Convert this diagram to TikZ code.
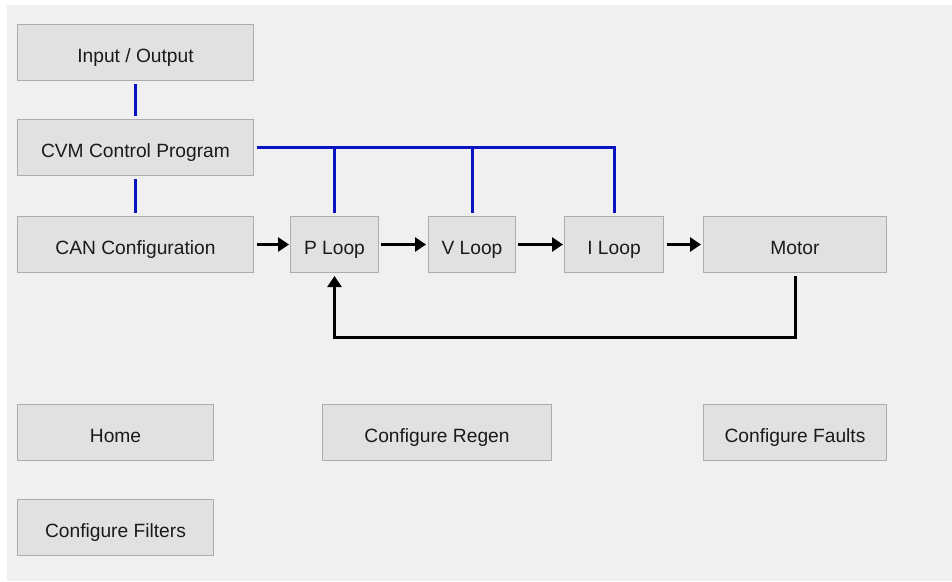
\documentclass[tikz,border=0pt]{standalone}
\usepackage{fontspec}
\setmainfont{Liberation Sans}
\usetikzlibrary{arrows.meta}
\definecolor{bg}{HTML}{F0F0F0}
\definecolor{boxfill}{HTML}{E1E1E1}
\definecolor{boxline}{HTML}{ADADAD}
\definecolor{bus}{HTML}{0A14C0}
\definecolor{txt}{HTML}{1A1A1A}
\begin{document}
\begin{tikzpicture}[x=1pt,y=-1pt,
  btn/.style={draw=boxline, line width=1pt, fill=boxfill, text=txt, inner sep=0pt,
    text height=19pt, text depth=0pt,
    font=\fontsize{19.2}{21}\selectfont, anchor=north west},
  busline/.style={draw=bus, line width=3pt},
  flow/.style={draw=black, line width=3pt, -{Triangle[length=11pt,width=14pt]}},
  fb/.style={draw=black, line width=3pt}]
\useasboundingbox (0,0) rectangle (952,581);
\fill[white] (0,0) rectangle (952,581);
\fill[bg] (7,5) rectangle (952,581);
% boxes
\node[btn, minimum width=236, minimum height=56] (io) at (17,24) {Input / Output};
\node[btn, minimum width=236, minimum height=56] (cvm) at (17,119) {CVM Control Program};
\node[btn, minimum width=236, minimum height=56] (can) at (17,216) {CAN Configuration};
\node[btn, minimum width=88, minimum height=56] (p) at (290,216) {P Loop};
\node[btn, minimum width=87, minimum height=56] (v) at (428,216) {V Loop};
\node[btn, minimum width=99, minimum height=56] (i) at (564,216) {I Loop};
\node[btn, minimum width=183, minimum height=56] (motor) at (703,216) {Motor};
\node[btn, minimum width=196, minimum height=56] (home) at (17,404) {Home};
\node[btn, minimum width=229, minimum height=56] (regen) at (322,404) {Configure Regen};
\node[btn, minimum width=183, minimum height=56] (faults) at (703,404) {Configure Faults};
\node[btn, minimum width=196, minimum height=56] (filters) at (17,499) {Configure Filters};
% blue bus
\draw[busline] ([yshift=-3]io.south) -- ([yshift=3]cvm.north);
\draw[busline] ([yshift=-3]cvm.south) -- ([yshift=3]can.north);
\coordinate (busend) at (i.north |- cvm.east);
\draw[busline] ([xshift=3]cvm.east) -- (busend) -- ([yshift=3]i.north);
\draw[busline] (p.north |- cvm.east) -- ([yshift=3]p.north);
\draw[busline] (v.north |- cvm.east) -- ([yshift=3]v.north);
% flow arrows
\draw[flow] ([xshift=3]can.east) -- ([xshift=-1]p.west);
\draw[flow] ([xshift=2]p.east) -- ([xshift=-2]v.west);
\draw[flow] ([xshift=2]v.east) -- ([xshift=-1]i.west);
\draw[flow] ([xshift=3]i.east) -- ([xshift=-2]motor.west);
% feedback
\coordinate (fbr) at ([yshift=-64]motor.south);
\coordinate (fbl) at (p.south |- fbr);
\draw[fb, -{Triangle[length=11pt,width=14pt]}] ([yshift=-3]motor.south) -- (fbr) -- (fbl) -- ([yshift=-3]p.south);
\end{tikzpicture}
\end{document}
